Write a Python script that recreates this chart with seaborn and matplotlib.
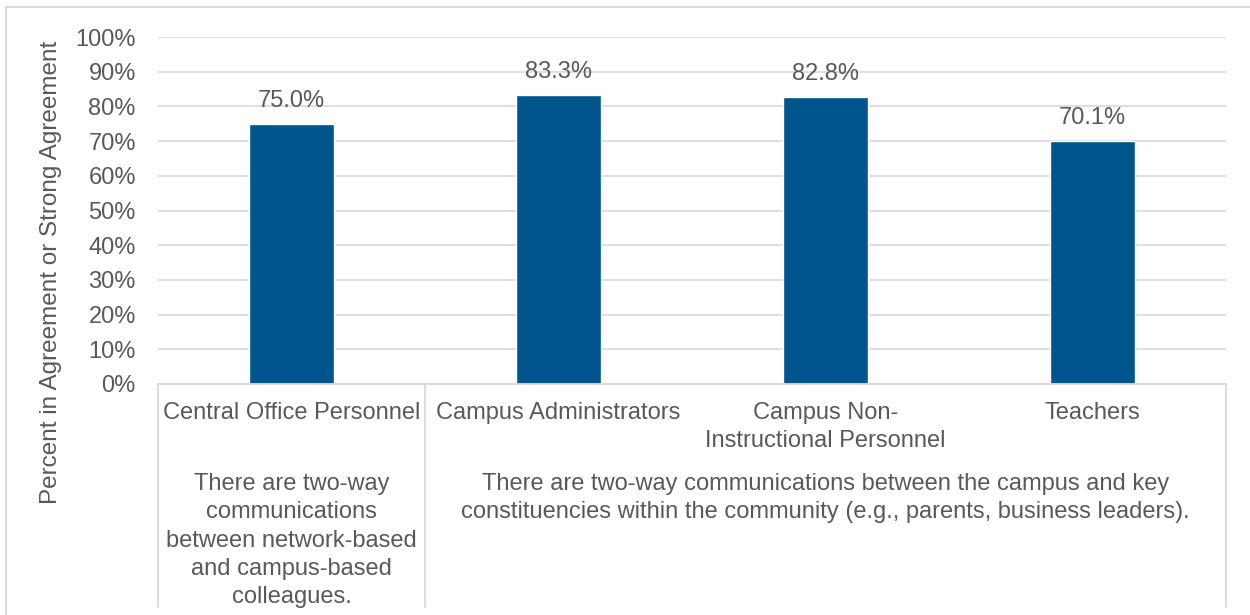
import matplotlib
matplotlib.use("Agg")
import matplotlib.pyplot as plt
from matplotlib.patches import Rectangle
from matplotlib.ticker import PercentFormatter
import seaborn as sns
import pandas as pd

# Survey results
categories = ["Central Office Personnel", "Campus Administrators",
              "Campus Non-\nInstructional Personnel", "Teachers"]
values = [75.0, 83.3, 82.8, 70.1]
groups = [
    "There are two-way\ncommunications\nbetween network-based\nand campus-based\ncolleagues.",
    "There are two-way communications between the campus and key\n"
    "constituencies within the community (e.g., parents, business leaders).",
]
yticks = [0, 10, 20, 30, 40, 50, 60, 70, 80, 90, 100]
ylabel = "Percent in Agreement or Strong Agreement"

df = pd.DataFrame({"category": categories, "value": [v / 100 for v in values]})

sns.set_theme(style="white")
plt.rcParams["font.family"] = ["Liberation Sans", "DejaVu Sans"]
text_color = "#595959"
grid_color = "#d9d9d9"
bar_color = "#00558c"
fs = 17
ls = 1.37

W, H = 1250, 615
fig = plt.figure(figsize=(W / 100, H / 100), dpi=100)
left, right, top, bottom = 158, 1226, 37, 384
ax = fig.add_axes([left / W, 1 - bottom / H, (right - left) / W, (bottom - top) / H])

sns.barplot(data=df, x="category", y="value", color=bar_color, saturation=1,
            width=0.315, ax=ax, zorder=3)

ax.set_ylim(0, 1)
ax.set_xlim(-0.5, len(categories) - 0.5)
ax.set_yticks([t / 100 for t in yticks])
ax.yaxis.set_major_formatter(PercentFormatter(1.0, decimals=0))
ax.grid(axis="y", color=grid_color, linewidth=1.2, zorder=0)
ax.grid(axis="x", visible=False)
for s in ["left", "right", "top"]:
    ax.spines[s].set_visible(False)
ax.spines["bottom"].set_color(grid_color)
ax.spines["bottom"].set_linewidth(1.3)
ax.spines["bottom"].set_zorder(4)
ax.tick_params(axis="y", length=0, pad=16, labelsize=fs, labelcolor=text_color)
ax.tick_params(axis="x", length=0, pad=13, labelsize=fs, labelcolor=text_color)
for lbl in ax.get_xticklabels():
    lbl.set_verticalalignment("top")
    lbl.set_linespacing(ls)
ax.set_xlabel("")
ax.set_ylabel("")

# value labels above each bar
for i, v in enumerate(values):
    ax.text(i, v / 100 + 0.033, f"{v:.1f}%", ha="center", va="bottom",
            fontsize=fs, color=text_color)

# group separators below the axis
sep_bottom = (bottom - 607) / (bottom - top)
for xa in [0, 0.25, 1.0]:
    ax.plot([xa, xa], [0, sep_bottom], transform=ax.transAxes, color=grid_color,
            linewidth=1.3, clip_on=False, zorder=4)

# group descriptions
group_y = (bottom - 473) / (bottom - top)
ax.text(0.125, group_y, groups[0], transform=ax.transAxes, ha="center", va="top",
        fontsize=fs, color=text_color, linespacing=ls)
ax.text(0.625, group_y, groups[1], transform=ax.transAxes, ha="center", va="top",
        fontsize=fs, color=text_color, linespacing=ls)

# y-axis title
fig.text(51 / W, 1 - 272 / H, ylabel, rotation=90, ha="center", va="center",
         fontsize=17.5, color=text_color)

# outer chart frame
fig.patches.append(Rectangle((6 / W, -0.1), 1.2, 1 - 7 / H + 0.1,
                             transform=fig.transFigure, fill=False,
                             edgecolor=grid_color, linewidth=1.3))

fig.savefig("out.png", dpi=100)
